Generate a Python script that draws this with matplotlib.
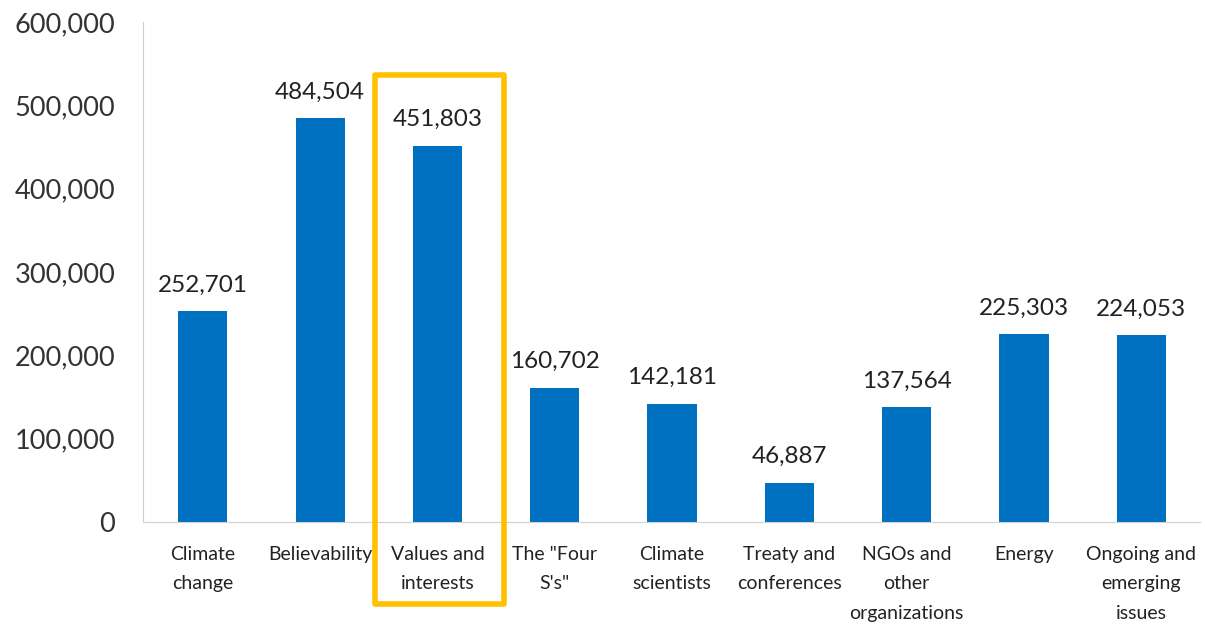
import matplotlib
matplotlib.use("Agg")
from matplotlib import pyplot as plt
from matplotlib.patches import Rectangle

categories = ["Climate\nchange", "Believability", "Values and\ninterests",
        "The \"Four\nS's\"", "Climate\nscientists", "Treaty and\nconferences",
        "NGOs and\nother\norganizations", "Energy", "Ongoing and\nemerging\nissues"]
counts = [252701, 484504, 451803, 160702, 142181, 46887, 137564, 225303, 224053]
y_ticks = [0, 100000, 200000, 300000, 400000, 500000, 600000]
highlight = 2

plt.rcParams['font.family'] = ['Lato', 'DejaVu Sans']

fig = plt.figure(figsize=(12.05, 6.29), dpi=100)
ax = fig.add_axes([0.1187, 0.170, 0.877, 0.795])

x = range(len(categories))
ax.bar(x, counts, width=0.42, color='#0070C0')
for i, v in zip(x, counts):
    ax.text(i, v + 19000, "{:,}".format(v), ha='center', va='bottom',
            fontsize=17.5, color='#222222')

ax.set_xlim(-0.51, 8.5)
ax.set_ylim(0, 600000)
ax.set_yticks(y_ticks)
ax.set_yticklabels(["{:,}".format(t) for t in y_ticks], fontsize=19.5, color='#333333')
ax.set_xticks(list(x))
ax.set_xticklabels(categories, fontsize=14, color='#222222', linespacing=1.9)
ax.tick_params(axis='both', length=0)
ax.tick_params(axis='x', pad=17)
ax.tick_params(axis='y', pad=20)

for side in ['top', 'right']:
    ax.spines[side].set_visible(False)
ax.spines['left'].set_color('#d0d0d0')
ax.spines['bottom'].set_color('#d0d0d0')

# orange box around the highlighted category
box = Rectangle((highlight - 0.53, -98000), 1.1, 635000, fill=False,
        edgecolor='#FFC000', linewidth=4, clip_on=False, zorder=5,
        joinstyle='round')
ax.add_patch(box)

fig.savefig("out.png", dpi=100)
